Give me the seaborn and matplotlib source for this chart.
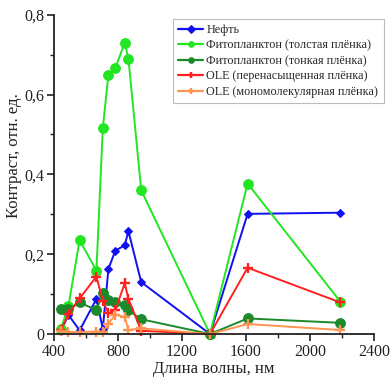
import matplotlib
matplotlib.use("Agg")
import matplotlib.pyplot as plt
import seaborn as sns
import numpy as np
from matplotlib.ticker import MultipleLocator

wavelength = [443, 490, 560, 665, 705, 740, 783, 842, 865, 945, 1375, 1610, 2190]
oil = [0.007, 0.048, 0.009, 0.088, 0.013, 0.163, 0.209, 0.222, 0.258, 0.130, 0.0, 0.301, 0.304]
phyto_thick = [0.013, 0.070, 0.235, 0.159, 0.516, 0.650, 0.666, 0.730, 0.690, 0.360, 0.0, 0.377, 0.081]
phyto_thin = [0.062, 0.062, 0.079, 0.060, 0.102, 0.085, 0.079, 0.073, 0.060, 0.037, 0.0, 0.039, 0.028]
ole_over = [0.010, 0.050, 0.089, 0.144, 0.083, 0.052, 0.060, 0.127, 0.088, 0.008, 0.0, 0.166, 0.079]
ole_mono = [0.007, 0.005, 0.005, 0.006, 0.005, 0.026, 0.048, 0.043, 0.010, 0.014, 0.0, 0.025, 0.010]

labels = ["Нефть", "Фитопланктон (толстая плёнка)", "Фитопланктон (тонкая плёнка)",
          "OLE (перенасыщенная плёнка)", "OLE (мономолекулярная плёнка)"]
yticks = [0, 0.2, 0.4, 0.6, 0.8]
ytick_labels = ["0", "0,2", "0,4", "0,6", "0,8"]
xticks = [400, 800, 1200, 1600, 2000, 2400]

sns.set_style("ticks")
plt.rcParams['font.family'] = ['Liberation Serif', 'DejaVu Serif']

fig = plt.figure(figsize=(3.9, 3.79), dpi=100)
ax = fig.add_axes([0.1385, 0.1187, 0.8205, 0.8425])

series = [oil, phyto_thick, phyto_thin, ole_over, ole_mono]
colors = ["#1010F0", "#22E622", "#1A8A2A", "#FF2020", "#FF9450"]
markers = ["D", "o", "o", "+", "+"]
msizes = [4.0, 7.0, 7.0, 7.5, 6.5]

for vals, lab, col, mk, ms in zip(series, labels, colors, markers, msizes):
    if mk == "+":
        kw = dict(marker="+", markersize=ms, markeredgewidth=1.7, markeredgecolor=col)
    else:
        kw = dict(marker=mk, markersize=ms, markeredgecolor=col, markerfacecolor=col)
    sns.lineplot(x=wavelength, y=vals, ax=ax, color=col, label=lab, linewidth=1.4,
                 clip_on=False, **kw)

ax.set_xlim(400, 2400)
ax.set_ylim(0, 0.8)
ax.set_xticks(xticks)
ax.set_xticklabels([str(t) for t in xticks])
ax.set_yticks(yticks)
ax.set_yticklabels(ytick_labels)
ax.xaxis.set_minor_locator(MultipleLocator(200))
ax.yaxis.set_minor_locator(MultipleLocator(0.1))
ax.tick_params(axis='both', which='major', direction='out', length=5, width=1.2,
               labelsize=11.5, colors='#222222', pad=2)
ax.tick_params(axis='both', which='minor', direction='out', length=3, width=1.0, colors='#222222')
for s in ["top", "right"]:
    ax.spines[s].set_visible(False)
for s in ["left", "bottom"]:
    ax.spines[s].set_linewidth(1.3)
    ax.spines[s].set_color('#222222')

ax.set_xlabel("Длина волны, нм", fontsize=12, labelpad=1, color='#222222')
ax.set_ylabel("Контраст, отн. ед.", fontsize=12, color='#222222')
ax.yaxis.set_label_coords(-0.10, 0.56)

leg = ax.legend(loc="upper left", bbox_to_anchor=(0.372, 0.987), fontsize=8.7,
                frameon=True, fancybox=False, edgecolor="#BBBBBB", framealpha=1,
                handlelength=2.0, handletextpad=0.3, borderpad=0.45, labelspacing=0.28,
                borderaxespad=0)
leg.get_frame().set_linewidth(0.8)
for h in leg.get_lines():
    h.set_markersize(4.0)
    h.set_linewidth(1.6)

fig.savefig("out.png", dpi=100)
